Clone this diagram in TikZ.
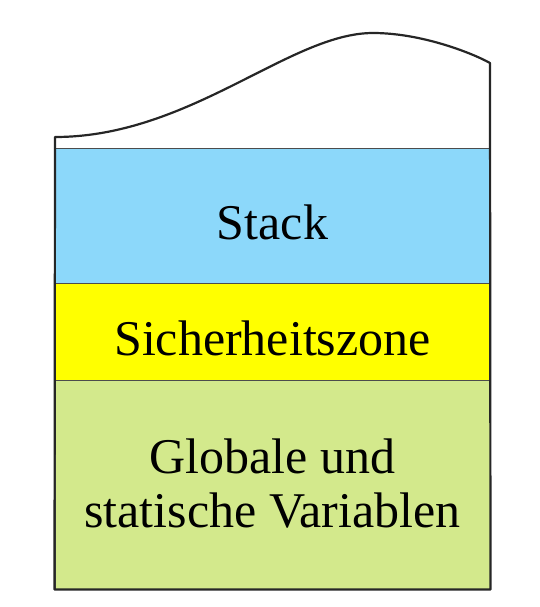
\documentclass[tikz,border=0pt]{standalone}
\usepackage{fontspec}
\setmainfont{Liberation Serif}
\definecolor{stackblue}{RGB}{140,216,250}
\definecolor{zoneyellow}{RGB}{255,255,0}
\definecolor{globalgreen}{RGB}{211,233,140}
\begin{document}
\begin{tikzpicture}[x=1pt,y=-1pt]
    \tikzstyle{band}=[draw=black!70,line width=1pt,minimum width=435pt,inner sep=0pt,
        text height=48pt,text depth=0pt,align=center,font=\fontsize{50}{54}\selectfont]
    \tikzstyle{wall}=[line width=2.2pt,draw=black!85,line join=round]

    \useasboundingbox (0,0) rectangle (540,607);

    \node[band,fill=stackblue,minimum height=135pt] at (272.5,215.5) (stack) {Stack};
    \node[band,fill=zoneyellow,minimum height=97pt] at (272.5,331.5) (zone) {Sicherheitszone};
    \node[band,fill=globalgreen,minimum height=209pt,text height=85pt] at (272.5,484.5) (global)
        {Globale und\\statische Variablen};

    \draw[wall] (global.south west) -- (55,137)
        .. controls (190,137) and (290,33) .. (373,33)
        .. controls (420,33) and (470,52) .. (490,63)
        -- (global.south east) -- cycle;
\end{tikzpicture}
\end{document}
